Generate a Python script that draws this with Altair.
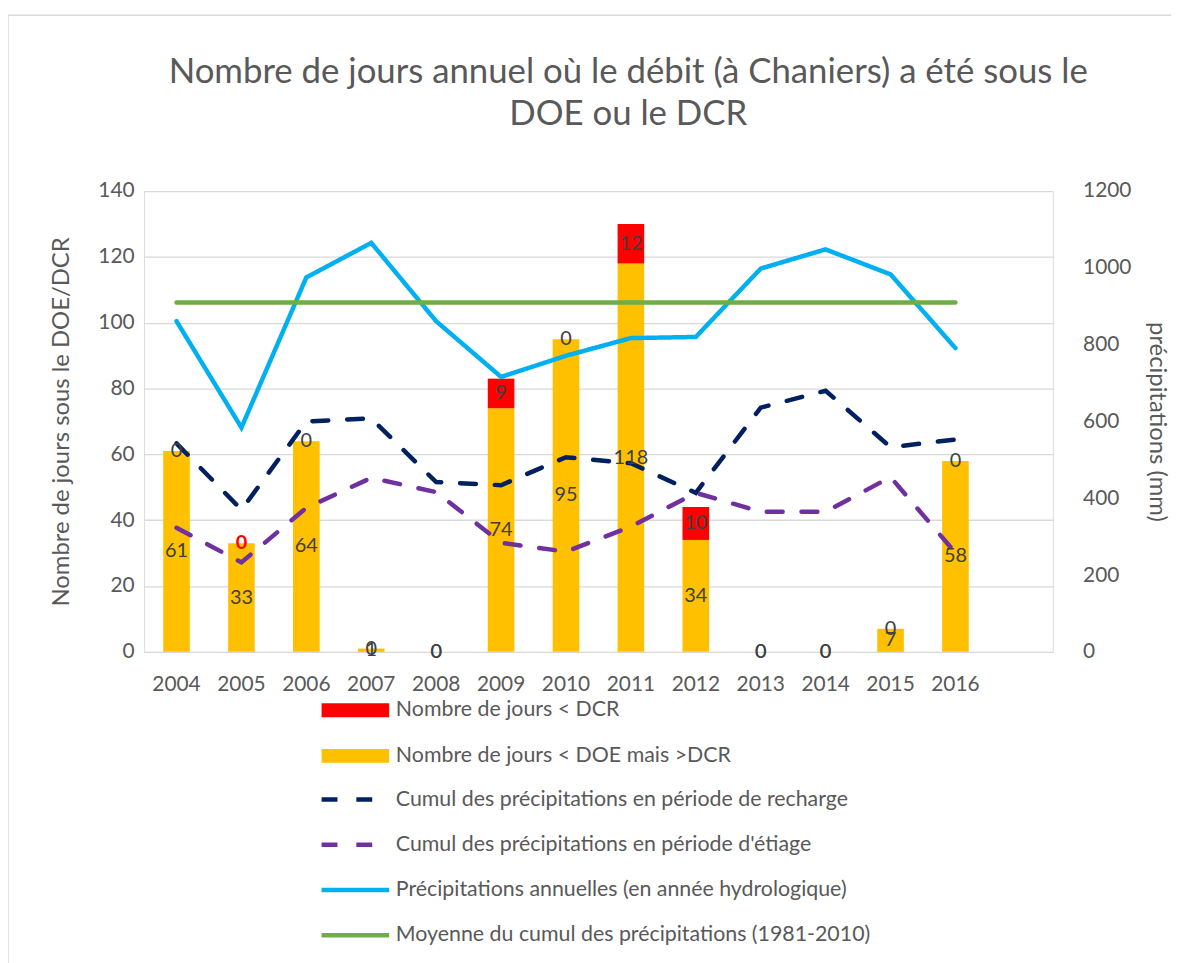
import altair as alt
import pandas as pd

years = ["2004", "2005", "2006", "2007", "2008", "2009", "2010",
         "2011", "2012", "2013", "2014", "2015", "2016"]
jours_doe = [61, 33, 64, 1, 0, 74, 95, 118, 34, 0, 0, 7, 58]
jours_dcr = [0, 0, 0, 0, 0, 9, 0, 12, 10, 0, 0, 0, 0]
recharge = [543, 370, 600, 608, 442, 434, 507, 491, 414, 636, 680, 533, 553]
etiage = [323, 233, 375, 453, 416, 284, 261, 326, 414, 365, 365, 455, 258]
annuelles = [861, 584, 975, 1065, 861, 716, 771, 817, 820, 998, 1048, 983, 791]
moyenne = 910

S_DCR = "Nombre de jours < DCR"
S_DOE = "Nombre de jours < DOE mais >DCR"
S_REC = "Cumul des précipitations en période de recharge"
S_ETI = "Cumul des précipitations en période d'étiage"
S_ANN = "Précipitations annuelles (en année hydrologique)"
S_MOY = "Moyenne du cumul des précipitations (1981-2010)"

x_domain = years + [" "]

bars_rows = []
text_rows = []
for i, y in enumerate(years):
    bars_rows.append({"annee": y, "serie": S_DOE, "valeur": jours_doe[i], "k": 0})
    bars_rows.append({"annee": y, "serie": S_DCR, "valeur": jours_dcr[i], "k": 1})
    text_rows.append({"annee": y, "serie": S_DOE, "valeur": jours_doe[i],
                      "mid": jours_doe[i] / 2})
    text_rows.append({"annee": y, "serie": S_DCR, "valeur": jours_dcr[i],
                      "mid": jours_doe[i] + jours_dcr[i] / 2})
bars_df = pd.DataFrame(bars_rows)
text_df = pd.DataFrame(text_rows)

line_rows = []
for i, y in enumerate(years):
    line_rows.append({"annee": y, "serie": S_REC, "mm": recharge[i]})
    line_rows.append({"annee": y, "serie": S_ETI, "mm": etiage[i]})
    line_rows.append({"annee": y, "serie": S_ANN, "mm": annuelles[i]})
    line_rows.append({"annee": y, "serie": S_MOY, "mm": moyenne})
lines_df = pd.DataFrame(line_rows)

FONT = "Lato"
GREY = "#595959"
LEG_FS = 21.5

x_enc = alt.X("annee:N", scale=alt.Scale(domain=x_domain, paddingInner=0.59, paddingOuter=0.295),
              axis=alt.Axis(title=None, labelAngle=0, domain=False, ticks=False,
                            labelPadding=22, labelFontSize=21, labelColor=GREY, labelFont=FONT))

bars = alt.Chart(bars_df).mark_bar().encode(
    x=x_enc,
    y=alt.Y("valeur:Q", stack="zero",
            scale=alt.Scale(domain=[0, 140], nice=False),
            axis=alt.Axis(title="Nombre de jours sous le DOE/DCR", values=list(range(0, 141, 20)),
                          grid=True, gridColor="#d9d9d9", gridWidth=1.3, domain=False, ticks=False,
                          labelPadding=10, labelFontSize=21, labelColor=GREY, labelFont=FONT,
                          titleFontSize=24, titleFontWeight="normal", titleColor=GREY,
                          titleFont=FONT, titlePadding=25)),
    color=alt.Color("serie:N",
                    scale=alt.Scale(domain=[S_DCR, S_DOE], range=["#ff0000", "#ffc000"]),
                    legend=alt.Legend(title=None, orient="none", legendX=202, legendY=512,
                                      symbolType="M-4.86,-1H4.86V1H-4.86Z", symbolSize=196,
                                      symbolStrokeWidth=0, labelFontSize=LEG_FS, labelColor=GREY,
                                      labelFont=FONT, labelOffset=30, rowPadding=23,
                                      labelLimit=700)),
    order=alt.Order("k:Q"),
)

lines = alt.Chart(lines_df).mark_line(strokeWidth=4.5, strokeCap="round").encode(
    x=x_enc,
    y=alt.Y("mm:Q", scale=alt.Scale(domain=[0, 1200], nice=False),
            axis=alt.Axis(title="précipitations (mm)", orient="right", format="d",
                          values=list(range(0, 1201, 200)), grid=False, domain=False, ticks=False,
                          labelPadding=30, labelFontSize=21, labelColor=GREY, labelFont=FONT,
                          titleFontSize=24, titleFontWeight="normal", titleColor=GREY,
                          titleFont=FONT, titlePadding=14)),
    color=alt.Color("serie:N",
                    scale=alt.Scale(domain=[S_REC, S_ETI, S_ANN, S_MOY],
                                    range=["#002060", "#7030a0", "#00b0f0", "#70ad47"]),
                    legend=alt.Legend(title=None, orient="none", legendX=202, legendY=602,
                                      symbolType="M-4.86,0H4.86", symbolSize=196,
                                      symbolStrokeWidth=4.5,
                                      labelFontSize=LEG_FS, labelColor=GREY, labelFont=FONT,
                                      labelOffset=30, rowPadding=22.5, labelLimit=700)),
    strokeDash=alt.StrokeDash("serie:N",
                              scale=alt.Scale(domain=[S_REC, S_ETI, S_ANN, S_MOY],
                                              range=[[16, 19], [16, 19], [1, 0], [1, 0]]),
                              legend=None),
)

is_special = (alt.datum.annee == "2005") & (alt.datum.serie == S_DCR)

labels = alt.Chart(text_df).transform_filter(~is_special).mark_text(
    fontSize=20, font=FONT, baseline="middle", color="#404040").encode(
    x=x_enc,
    y=alt.Y("mid:Q", scale=alt.Scale(domain=[0, 140], nice=False), axis=None),
    text=alt.Text("valeur:Q"),
)

labels_red = alt.Chart(text_df).transform_filter(is_special).mark_text(
    fontSize=20, font=FONT, baseline="middle", color="#ff0000", fontWeight="bold").encode(
    x=x_enc,
    y=alt.Y("mid:Q", scale=alt.Scale(domain=[0, 140], nice=False), axis=None),
    text=alt.Text("valeur:Q"),
)

frame_df = pd.DataFrame({"f": [0]})
frame_top = alt.Chart(frame_df).mark_rule(color="#d9d9d9", strokeWidth=1.5).encode(
    x=alt.value(-137), x2=alt.value(1040), y=alt.value(-177))
frame_left = alt.Chart(frame_df).mark_rule(color="#d9d9d9", strokeWidth=1.5).encode(
    x=alt.value(-137), y=alt.value(-177), y2=alt.value(800))

chart = alt.layer(frame_top, frame_left, bars, lines, labels, labels_red).resolve_scale(
    y="independent", color="independent", strokeDash="independent"
).properties(
    width=915, height=464,
    autosize=alt.AutoSizeParams(type="none"),
    padding={"left": 137, "top": 181, "right": 119, "bottom": 310},
    title=alt.Title(["Nombre de jours annuel où le débit (à Chaniers) a été sous le", "DOE ou le DCR"],
                    fontSize=35, font=FONT, fontWeight="normal", color=GREY, frame="group",
                    anchor="middle", offset=-118, lineHeight=42, dx=30),
).configure_view(stroke=None).configure(background="white")

chart.save("out.html", embed_options={"renderer": "svg", "actions": False})
